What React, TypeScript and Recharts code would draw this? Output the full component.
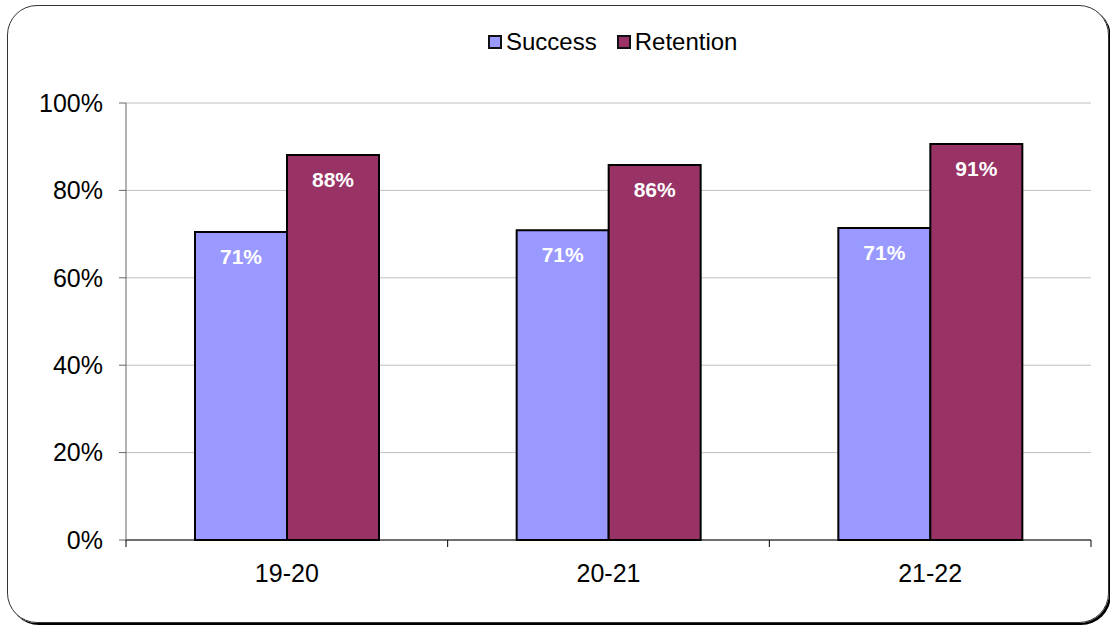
import { BarChart, Bar, XAxis, YAxis, CartesianGrid, Legend, LabelList } from "recharts";

const categories = ["19-20", "20-21", "21-22"];
const successValues = [70.5, 70.9, 71.4];
const retentionValues = [88.1, 85.8, 90.6];
const yTicks = [0, 20, 40, 60, 80, 100];

const chartData = categories.map((year, i) => ({
  year,
  success: successValues[i],
  retention: retentionValues[i],
}));

const FONT = "'Liberation Sans', Arial, sans-serif";
const CHART_W = 1110;
const CHART_H = 628;
// legend (30) and x axis (30) heights come on top of these
const MARGIN = { top: 73, right: 19, bottom: 58, left: 66 };
const YAXIS_W = 60;
const bandWidth = (CHART_W - MARGIN.left - YAXIS_W - MARGIN.right) / categories.length;

const series = [
  { key: "success", name: "Success", color: "#9999FF" },
  { key: "retention", name: "Retention", color: "#993366" },
];

const XTick = (props: any) => {
  const { x, y, payload, index } = props;
  const half = bandWidth / 2;
  return (
    <g>
      <line x1={x - half} y1={y} x2={x - half} y2={y + 7} stroke="#000" strokeWidth={1} />
      {index === categories.length - 1 && (
        <line x1={x + half} y1={y} x2={x + half} y2={y + 7} stroke="#000" strokeWidth={1} />
      )}
      <text x={x} y={y + 24} dy="0.71em" textAnchor="middle" fill="#000" fontSize={25} fontFamily={FONT}>
        {payload.value}
      </text>
    </g>
  );
};

const LegendContent = () => (
  <div style={{ display: "flex", alignItems: "center", fontFamily: FONT, fontSize: 24, color: "#000" }}>
    {series.map((s, i) => (
      <div key={s.key} style={{ display: "flex", alignItems: "center", marginLeft: i === 0 ? 0 : 20 }}>
        <span
          style={{
            display: "inline-block",
            width: 10,
            height: 10,
            background: s.color,
            border: "2px solid #111",
            marginRight: 4,
          }}
        />
        <span>{s.name}</span>
      </div>
    ))}
  </div>
);

export default function App() {
  return (
    <div style={{ position: "absolute", left: 0, top: 0, width: CHART_W, height: CHART_H, background: "#fff" }}>
      <div
        style={{
          position: "absolute",
          left: 7,
          top: 5,
          width: 1102,
          height: 618,
          border: "1px solid #333",
          borderRadius: 30,
          boxShadow: "2px 2px 0 #000",
          boxSizing: "border-box",
        }}
      />
      <div style={{ position: "absolute", left: 0, top: 0 }}>
        <BarChart
          width={CHART_W}
          height={CHART_H}
          data={chartData}
          margin={MARGIN}
          barSize={92}
          barGap={0}
        >
          <CartesianGrid vertical={false} stroke="#c0c0c0" />
          <XAxis
            dataKey="year"
            height={30}
            axisLine={{ stroke: "#000" }}
            tickLine={false}
            tickSize={0}
            tickMargin={0}
            tick={<XTick />}
            interval={0}
          />
          <YAxis
            width={YAXIS_W}
            domain={[0, 100]}
            ticks={yTicks}
            tickFormatter={(v) => `${v}%`}
            axisLine={{ stroke: "#666" }}
            tickLine={{ stroke: "#666" }}
            tickSize={7}
            tickMargin={16}
            tick={{ fill: "#000", fontSize: 25, fontFamily: FONT }}
            interval={0}
          />
          <Legend
            verticalAlign="top"
            content={<LegendContent />}
            wrapperStyle={{ position: "absolute", left: 488, top: 28, width: 320, height: 30 }}
          />
          {series.map((s) => (
            <Bar
              key={s.key}
              dataKey={s.key}
              name={s.name}
              fill={s.color}
              stroke="#000"
              strokeWidth={2}
              isAnimationActive={false}
            >
              <LabelList
                dataKey={s.key}
                position="insideTop"
                offset={17}
                formatter={(v: any) => `${Math.round(v)}%`}
                fill="#fff"
                fontSize={21}
                fontWeight="bold"
                fontFamily={FONT}
              />
            </Bar>
          ))}
        </BarChart>
      </div>
    </div>
  );
}
